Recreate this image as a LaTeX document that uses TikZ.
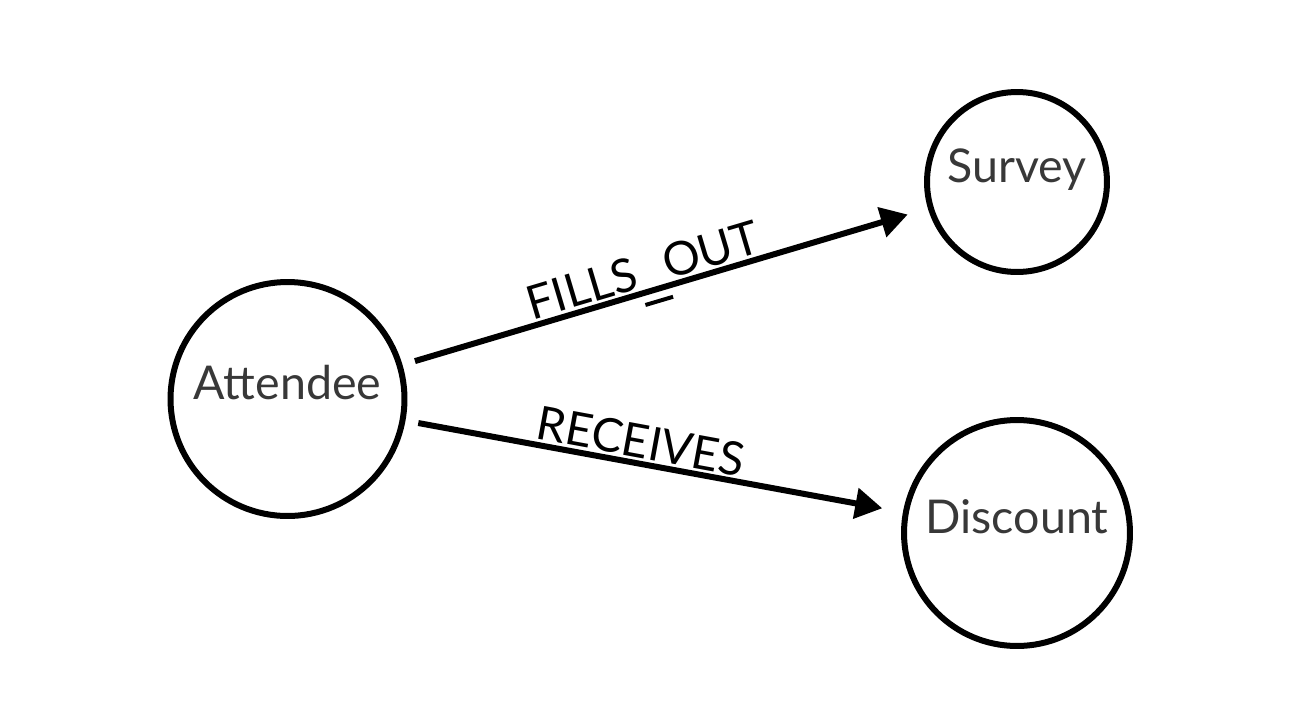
\documentclass[tikz,border=0pt]{standalone}
\usepackage{fontspec}
\setmainfont{Lato}
\usetikzlibrary{arrows.meta}

\begin{document}
\begin{tikzpicture}[x=0.02cm,y=-0.02cm,
    entity/.style={circle,draw,line width=0.12cm,text=black!78,
      font=\fontsize{26.5pt}{30pt}\selectfont,inner sep=0pt,
      text height=0.5em,text depth=0.42em},
    rel/.style={line width=0.12cm,-{Triangle[length=0.54cm,width=0.6cm]},
      shorten <=0.26cm,shorten >=0.42cm},
    rellabel/.style={sloped,above,inner sep=1.5pt,text depth=0pt,
      font=\fontsize{26.5pt}{30pt}\selectfont}]
    \useasboundingbox (0,0) rectangle (1289,708);
    \node[entity,minimum size=4.68cm] (attendee) at (287.5,399) {Attendee};
    \node[entity,minimum size=3.6cm]  (survey)   at (1017,182)  {Survey};
    \node[entity,minimum size=4.52cm] (discount) at (1017,533)  {Discount};
    \draw[rel] (attendee) -- (survey)
      node[rellabel,pos=0.47] {FILLS\raisebox{-0.42em}{\rule{0.62em}{0.085em}}OUT};
    \draw[rel] (attendee) -- (discount) node[rellabel,pos=0.465] {RECEIVES};
\end{tikzpicture}
\end{document}
